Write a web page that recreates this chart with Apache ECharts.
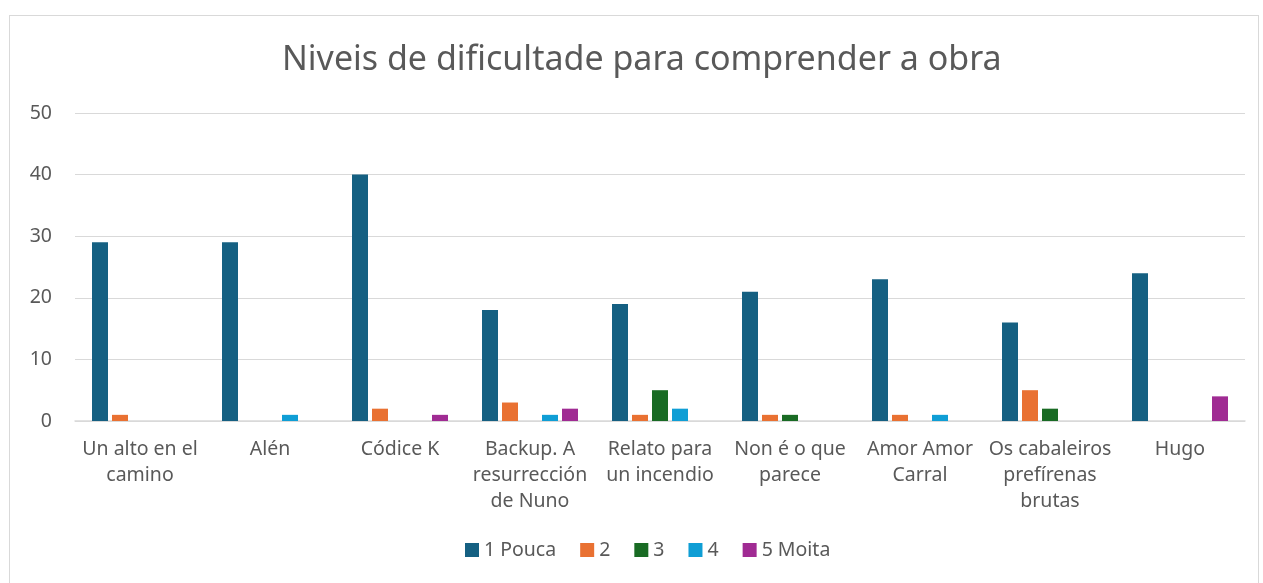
<!DOCTYPE html>
<html>
<head>
<meta charset="utf-8">
<script src="https://cdn.jsdelivr.net/npm/echarts@6/dist/echarts.min.js"></script>
<style>
	html, body { margin:0; padding:0; background:#fff; }
	#frame { position:absolute; left:9px; top:15px; width:1250px; height:600px; border:1px solid #d9d9d9; box-sizing:border-box; }
	#chart { position:absolute; left:0; top:0; width:1263px; height:583px; }
</style>
</head>
<body>
<div id="frame"></div>
<div id="chart"></div>
<script>
(function(){
	'use strict';

	// categories (books)
	var books = [
		"Un alto en el\ncamino", "Alén", "Códice K", "Backup. A\nresurrección\nde Nuno",
		"Relato para\nun incendio", "Non é o que\nparece", "Amor Amor\nCarral",
		"Os cabaleiros\nprefírenas\nbrutas", "Hugo"
	];
	// series values per difficulty level
	var level1 = [29, 29, 40, 18, 19, 21, 23, 16, 24];
	var level2 = [1, 0, 2, 3, 1, 1, 1, 5, 0];
	var level3 = [0, 0, 0, 0, 5, 1, 0, 2, 0];
	var level4 = [0, 1, 0, 1, 2, 0, 1, 0, 0];
	var level5 = [0, 0, 1, 2, 0, 0, 0, 0, 4];
	var seriesNames = ["1 Pouca", "2", "3", "4", "5 Moita"];
	var colors = ["#156082", "#E97132", "#196B24", "#0F9ED5", "#A02B93"];

	var font = "'Noto Sans', 'Open Sans', sans-serif";
	var myChart = echarts.init(document.getElementById("chart"));

	var mkSeries = function(name, data){
		return {
			name: name,
			type: 'bar',
			data: data,
			barWidth: 16,
			barGap: '25%'
		};
	};

	var option = {
		color: colors,
		textStyle: { fontFamily: font },
		title: {
			text: 'Niveis de dificultade para comprender a obra',
			left: 277,
			top: 38,
			textStyle: { fontSize: 34, fontWeight: 'normal', color: '#595959', fontFamily: font }
		},
		legend: {
			bottom: 18,
			left: 460,
			itemWidth: 14,
			itemHeight: 14,
			itemGap: 24,
			icon: 'rect',
			textStyle: { fontSize: 19.5, color: '#595959', fontFamily: font },
			data: seriesNames
		},
		grid: { left: 75, right: 18, top: 113, bottom: 162, containLabel: false },
		xAxis: {
			type: 'category',
			data: books,
			axisLine: { lineStyle: { color: '#d9d9d9', width: 1.5 } },
			axisTick: { show: false },
			axisLabel: { fontSize: 19.5, color: '#595959', lineHeight: 26, margin: 15, interval: 0, fontFamily: font }
		},
		yAxis: {
			type: 'value',
			min: 0,
			max: 50,
			interval: 10,
			axisLine: { show: false },
			axisTick: { show: false },
			splitLine: { lineStyle: { color: '#d9d9d9', width: 1.2 } },
			axisLabel: { fontSize: 19.5, color: '#595959', margin: 23, fontFamily: font }
		},
		series: [
			mkSeries(seriesNames[0], level1),
			mkSeries(seriesNames[1], level2),
			mkSeries(seriesNames[2], level3),
			mkSeries(seriesNames[3], level4),
			mkSeries(seriesNames[4], level5)
		]
	};
	myChart.setOption(option);
})();
</script>
</body>
</html>
